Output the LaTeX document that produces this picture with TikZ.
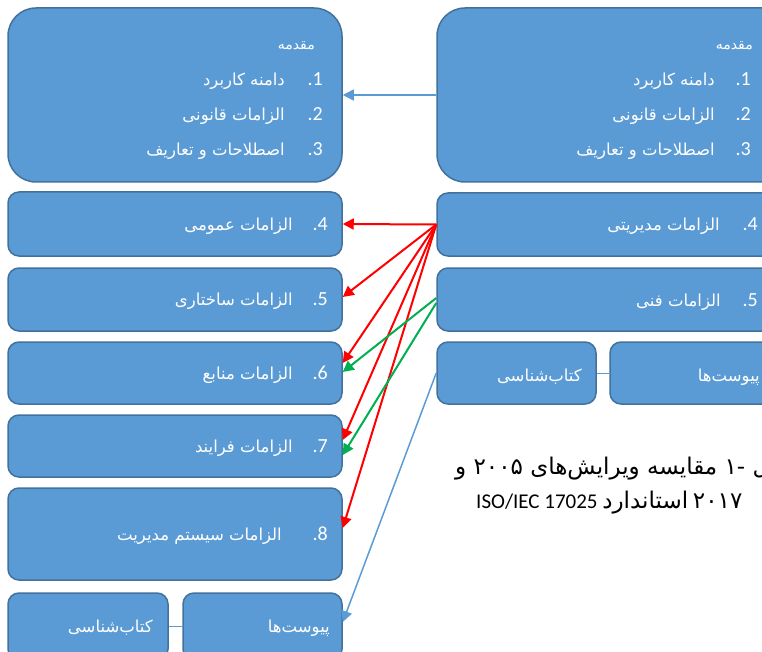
\documentclass[tikz,border=0pt]{standalone}
\usepackage{fontspec}
\setmainfont{Carlito}
\newfontfamily\ar[Script=Arabic]{DejaVu Sans}
\TeXXeTstate=1
\usetikzlibrary{arrows.meta}
\definecolor{boxblue}{HTML}{5B9BD5}
\definecolor{boxedge}{HTML}{41719C}
\definecolor{grn}{HTML}{00B050}
\definecolor{rd}{HTML}{FF0000}
\newcommand\AR[1]{{\ar\beginR #1\endR}}
\newcommand\capar{\ar\fontsize{23}{26}\selectfont}
\begin{document}
\begin{tikzpicture}[x=1pt,y=-1pt,
  bigbox/.style={draw=boxedge, fill=boxblue, line width=1.5pt, rounded corners=28pt, inner sep=0pt},
  smallbox/.style={draw=boxedge, fill=boxblue, line width=1.5pt, rounded corners=11pt, inner sep=0pt},
  num/.style={text=white, font=\fontsize{20}{24}\selectfont, anchor=base east, inner sep=0pt},
  lbl/.style={text=white, font=\ar\fontsize{16.5}{20}\selectfont, anchor=base east, inner sep=0pt},
  hdr/.style={text=white, font=\ar\fontsize{14}{16}\selectfont, anchor=base east, inner sep=0pt},
  captxt/.style={text=black, font=\fontsize{21}{25}\selectfont, anchor=base west, inner sep=0pt},
  tipA/.style={-{Triangle[length=11pt,width=11pt]}},
  redarr/.style={tipA, draw=rd, line width=2pt},
  grnarr/.style={tipA, draw=grn, line width=2pt},
  bluarr/.style={tipA, draw=boxblue, line width=1.5pt},
  link/.style={draw=boxblue, line width=1pt}]
\useasboundingbox (0,0) rectangle (762,652);
\clip (0,0) rectangle (762,652);
% left column
\node[bigbox, minimum width=334pt, minimum height=174pt] (li) at (175,95) {};
\node[smallbox, minimum width=334pt, minimum height=64pt] (l4) at (175,224) {};
\node[smallbox, minimum width=334pt, minimum height=63pt] (l5) at (175,299.5) {};
\node[smallbox, minimum width=334pt, minimum height=62pt] (l6) at (175,373) {};
\node[smallbox, minimum width=334pt, minimum height=62pt] (l7) at (175,446) {};
\node[smallbox, minimum width=334pt, minimum height=92pt] (l8) at (175,534) {};
\node[smallbox, minimum width=160pt, minimum height=67pt] (lk) at (88,626.5) {};
\node[smallbox, minimum width=159pt, minimum height=67pt] (lp) at (262.5,626.5) {};
% right column
\node[bigbox, minimum width=353pt, minimum height=174pt] (ri) at (613.5,95) {};
\node[smallbox, minimum width=353pt, minimum height=63pt] (r4) at (613.5,224.5) {};
\node[smallbox, minimum width=353pt, minimum height=63pt] (r5) at (613.5,299.5) {};
\node[smallbox, minimum width=159pt, minimum height=62pt] (rk) at (516.5,373) {};
\node[smallbox, minimum width=180pt, minimum height=62pt] (rp) at (700,373) {};
% left texts
\node[hdr] (lih) at (315,50) {\AR{مقدمه}};
\node[num] (lin1) at (323,86) {.1};
\node[lbl] (lit1) at (285,86) {\AR{دامنه کاربرد}};
\node[num] (lin2) at (323,121) {.2};
\node[lbl] (lit2) at (285,121) {\AR{الزامات قانونی}};
\node[num] (lin3) at (323,156) {.3};
\node[lbl] (lit3) at (285,156) {\AR{اصطلاحات و تعاریف}};
\node[num] (l4n) at (328,230) {.4};
\node[lbl] (l4t) at (293,230) {\AR{الزامات عمومی}};
\node[num] (l5n) at (328,305) {.5};
\node[lbl] (l5t) at (293,305) {\AR{الزامات ساختاری}};
\node[num] (l6n) at (328,379) {.6};
\node[lbl] (l6t) at (293,379) {\AR{الزامات منابع}};
\node[num] (l7n) at (328,452) {.7};
\node[lbl] (l7t) at (293,452) {\AR{الزامات فرایند}};
\node[num] (l8n) at (328,540) {.8};
\node[lbl] (l8t) at (282,540) {\AR{الزامات سیستم مدیریت}};
\node[lbl] (lpt) at (330,632) {\AR{پیوست‌ها}};
\node[lbl] (lkt) at (153,632) {\AR{کتاب‌شناسی}};
% right texts
\node[hdr] (rih) at (753,50) {\AR{مقدمه}};
\node[num] (rin1) at (751,86) {.1};
\node[lbl] (rit1) at (715,86) {\AR{دامنه کاربرد}};
\node[num] (rin2) at (751,121) {.2};
\node[lbl] (rit2) at (715,121) {\AR{الزامات قانونی}};
\node[num] (rin3) at (751,156) {.3};
\node[lbl] (rit3) at (715,156) {\AR{اصطلاحات و تعاریف}};
\node[num] (r4n) at (758,231) {.4};
\node[lbl] (r4t) at (720,231) {\AR{الزامات مدیریتی}};
\node[num] (r5n) at (758,306) {.5};
\node[lbl] (r5t) at (721,306) {\AR{الزامات فنی}};
\node[lbl] (rkt) at (582,381) {\AR{کتاب‌شناسی}};
\node[lbl] (rpt) at (760,381) {\AR{پیوست‌ها}};
% caption
\node[captxt] (c1) at (455,474) {\capar\beginR شکل \beginL-۱\endL{} مقایسه ویرایش‌های \beginL۲۰۰۵\endL{} و\endR};
\node[captxt] (c2) at (476,508) {ISO/IEC 17025 \AR{\capar استاندارد} {\capar ۲۰۱۷}};
% connectors
\draw[bluarr] (ri.west) -- (li.east);
\draw[redarr] (r4.west) -- (l4.east);
\draw[redarr] (r4.west) -- ([yshift=2.5pt]l5.east);
\draw[redarr] (r4.west) -- ([yshift=10pt]l6.east);
\draw[redarr] (r4.west) -- ([yshift=6pt]l7.east);
\draw[redarr] (r4.west) -- ([yshift=6pt]l8.east);
\draw[grnarr] ([yshift=1.5pt]r5.west) -- ([yshift=1pt]l6.east);
\draw[grnarr] ([yshift=-3.5pt]r5.west) -- ([yshift=-9pt]l7.east);
\draw[bluarr] (rk.west) -- ([yshift=4.5pt]lp.east);
\draw[link] (lk.east) -- (lp.west);
\draw[link] (rk.east) -- (rp.west);
\end{tikzpicture}
\end{document}
